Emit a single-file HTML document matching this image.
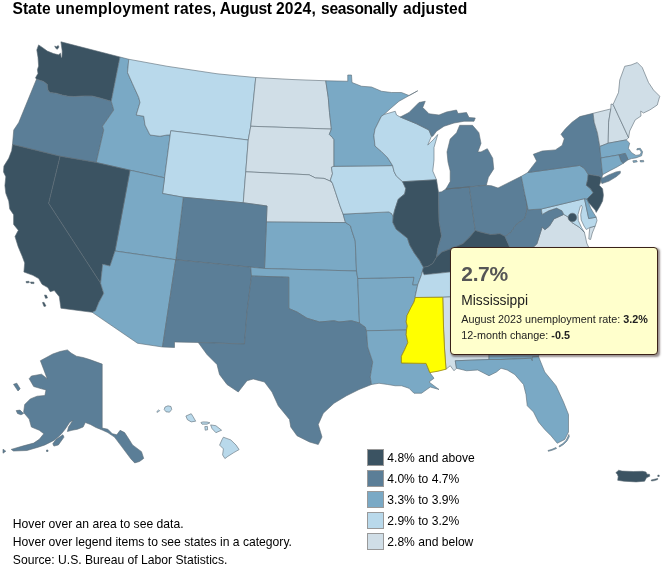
<!DOCTYPE html>
<html lang="en"><head><meta charset="utf-8"><title>State unemployment rates, August 2024, seasonally adjusted</title>
<style>
html,body{margin:0;padding:0;background:#fff;}
body{width:668px;height:565px;position:relative;overflow:hidden;font-family:"Liberation Sans",sans-serif;color:#000;}
#title{position:absolute;left:0;top:-0.7px;width:600px;height:20px;font-size:15.6px;font-weight:bold;white-space:nowrap;line-height:20px;}
#map{position:absolute;left:0;top:0;}
#map path{stroke:#5d6b75;stroke-width:0.6;stroke-linejoin:round;}

#title span{position:absolute;top:0;}
.note{position:absolute;left:12.8px;font-size:12.15px;line-height:18px;white-space:nowrap;}
.leg{position:absolute;left:367px;width:15px;height:15px;border:1px solid #999;}
.legt{position:absolute;left:387.3px;font-size:12.1px;line-height:16px;white-space:nowrap;margin-top:1.4px;}
#tip{position:absolute;left:450px;top:246.7px;width:206px;height:106px;background:#ffffcc;border:1px solid #3a2218;border-radius:4px;box-shadow:1.5px 1.5px 2px rgba(70,55,55,.55);}
#tip div{position:absolute;left:10.3px;white-space:nowrap;color:#222;}
</style></head><body>
<svg id="map" width="668" height="565" viewBox="0 0 668 565">
<path d="M36.5,79.2 35.5,77.8 38,73.4 37.4,69.7 38.6,66 38,57.3 36.8,49.9 38.6,44.9 42.3,47.4 47.3,51.1 53.5,53.6 58.5,54.8 60.5,53.2 61.3,57.9 62,57 62.2,51.1 60.9,41.8 120,57 111.25,101.25 100,98 92,96 85,95.9 74.6,96.5 68.4,96.3 62.2,95.1 56,93.2 49.8,92.6 47.9,90.1 47.3,84.6 43.6,81.5ZM54.7,46 56.5,46.8 58.2,45.5 59,47 57.3,49.3 55.8,48.3Z" fill="#3b5362"/>
<path d="M36.5,79.2 30,95 18.75,122.5 13.75,130 12.5,144.5 60,156.25 96.25,162.5 103.75,130 102.5,126.25 113.75,110 111.25,101.25 100,98 92,96 85,95.9 74.6,96.5 68.4,96.3 62.2,95.1 56,93.2 49.8,92.6 47.9,90.1 47.3,84.6 43.6,81.5Z" fill="#5b7e97"/>
<path d="M120,57 128.75,59.25 127.5,72.5 132.5,83.75 138.75,97.5 140,102.5 136.25,115 143.75,116.25 145,125 150,135 160,136.25 167,135 170.2,135 164.56,177.8 130,170.2 96.25,162.5 103.75,130 102.5,126.25 113.75,110 111.25,101.25Z" fill="#7aa9c5"/>
<path d="M128.75,59.25 167,66.25 192,70 217,73.75 242,76.25 255.75,77.5 250.75,126.25 248.25,140 170.75,130.75 170.2,135 167,135 160,136.25 150,135 145,125 143.75,116.25 136.25,115 140,102.5 138.75,97.5 132.5,83.75 127.5,72.5Z" fill="#b9d9eb"/>
<path d="M248.25,140 245.75,171.8 243.25,202.75 183.25,197.25 162.5,193.5 164.56,177.8 170.2,135 170.75,130.75Z" fill="#b9d9eb"/>
<path d="M255.75,77.5 292,79.5 325.75,80.75 328.25,97.5 329.5,112.5 331.4,129.1 250.75,126.25Z" fill="#d0dee7"/>
<path d="M331.4,129.1 329.3,134.4 332.5,137.6 334,139.7 334,166.3 331.4,167.3 332.5,173.7 330.4,180.1 332.5,183.3 330.4,181.2 324,178.4 315.5,178 309.1,174.8 245.75,171.8 248.25,140 250.75,126.25Z" fill="#d0dee7"/>
<path d="M332.5,183.3 335.7,192.8 339.9,205.6 343.1,214.1 345.2,221.5 345.7,222.6 266.4,222 267,206 243.25,202.75 245.75,171.8 309.1,174.8 315.5,178 324,178.4 330.4,181.2Z" fill="#d0dee7"/>
<path d="M345.7,222.6 350.5,225.8 351.6,230 355.25,241 356.5,271 264.5,268.5 266.4,222Z" fill="#7aa9c5"/>
<path d="M264.5,268.5 250.75,267.2 175.75,259.75 183.25,197.25 243.25,202.75 267,206 266.4,222Z" fill="#5b7e97"/>
<path d="M175.75,259.75 115,251 130,170.2 164.56,177.8 162.5,193.5 183.25,197.25Z" fill="#7aa9c5"/>
<path d="M115,251 110,266 102.7,264.3 100.6,283.2 48.6,203.3 60,156.25 96.25,162.5 130,170.2Z" fill="#3b5362"/>
<path d="M12.5,144.5 11.7,150.6 8.75,158.3 3.9,166.1 3.5,171.9 5.8,176.8 4.9,185.6 5.8,193.3 8.75,201.1 9.7,208.9 13.6,214.7 13.6,224.4 18.3,230.3 15,236.5 18.1,246.5 22.2,256.3 24.7,262.9 23.9,272 32.9,275.3 38.7,278.6 42,284.3 47.8,287.6 50.2,291.7 54.3,290.5 59.3,296.7 60.9,308.2 92.2,312.3 95.5,310.7 98.8,302.5 103.7,293.4 100.6,283.2 48.6,203.3 60,156.25ZM26,281.5 29,281.3 29.3,282.6 26.5,283ZM30.5,282 34,282.2 34,283.6 31,283.5ZM44.5,295 46.5,295.3 47.5,298 45.5,298.3ZM42.5,302.5 44,302.3 46,306 44,306.5Z" fill="#3b5362"/>
<path d="M175.75,259.75 162.5,347 137.5,343.25 92.2,312.3 95.5,310.7 98.8,302.5 103.7,293.4 100.6,283.2 102.7,264.3 110,266 115,251Z" fill="#7aa9c5"/>
<path d="M250.75,267.2 251.5,276 247,312 244.5,344 198.25,342.5 174.5,342 174.5,347.5 162.5,347 175.75,259.75Z" fill="#5b7e97"/>
<path d="M251.5,276 288.75,277.25 288.75,308.5 297,312 307,318.25 319.5,322 334,320.75 339,322 351.5,320.75 359.5,323 359,312 357.75,278.5 356.5,271 264.5,268.5 250.75,267.2Z" fill="#7aa9c5"/>
<path d="M359.5,323 365.25,327 366.5,330.75 367.75,347 372.75,362 370.25,377 371.5,384.5 359,389.5 346.5,395.75 334,403.25 323.25,413.25 318.25,424.5 322,437 318.25,444.5 309.5,442 297,435.75 290.75,427 289.5,419.5 278.25,405.75 272,392 264.5,382 253.25,379 247,380.75 238.25,392 227,384.5 219.5,374.5 217,364.5 207,354.5 198.25,342.5 244.5,344 247,312 251.5,276 288.75,277.25 288.75,308.5 297,312 307,318.25 319.5,322 334,320.75 339,322 351.5,320.75Z" fill="#5b7e97"/>
<path d="M357.75,278.5 414,277.25 412.75,284.75 417.75,284.75 415.25,296 415.25,297.5 414,302 411,307.5 407,315.5 406.2,321.9 407.3,326 406.5,330 366.5,330.75 365.25,327 359.5,323 359,312Z" fill="#7aa9c5"/>
<path d="M406.5,330 406.2,334.7 407.8,342.6 404.6,349.8 401.4,356.2 401.4,363 426.1,363.4 428,368 429.8,372.6 434,378.25 429,382 439,389.5 430.25,387 421.5,393.25 414,393.25 409,388.25 401.5,385.75 395.25,385.75 387.75,384.5 379,383.25 371.5,384.5 370.25,377 372.75,362 367.75,347 366.5,330.75Z" fill="#7aa9c5"/>
<path d="M343.1,214.1 388.8,211.9 391.5,213.5 393.2,216.5 392.9,222.5 396.2,229.2 401.9,233.7 407.5,238.2 409.7,244.9 414.2,252.8 419.8,260.6 421.8,264.5 423.5,267.25 422.5,271 421.5,274.75 417.75,284.75 412.75,284.75 414,277.25 357.75,278.5 356.5,271 355.25,241 351.6,230 350.5,225.8 345.7,222.6 345.2,221.5Z" fill="#7aa9c5"/>
<path d="M334,166.3 392.6,165.6 394.1,171.6 396.2,175.8 402.6,181.7 405.8,188.6 404.7,193.9 398.3,199.2 396.2,205.6 394.6,210.5 393.2,216.5 391.5,213.5 388.8,211.9 343.1,214.1 339.9,205.6 335.7,192.8 332.5,183.3 330.4,180.1 332.5,173.7 331.4,167.3Z" fill="#b9d9eb"/>
<path d="M325.75,80.75 347.75,81.25 347.75,75 351.5,75 352,82.5 361.5,86.25 371.5,87 381.5,91.25 391.5,92.5 401.5,92.5 409,95.5 417.75,90.75 399,101.25 390.25,108.75 384,114.5 381.3,116.4 375,129.1 373.9,135.5 375,146.1 381.3,151.4 387.7,157.8 392.6,165.6 334,166.3 334,139.7 332.5,137.6 329.3,134.4 331.4,129.1 329.5,112.5 328.25,97.5Z" fill="#7aa9c5"/>
<path d="M384,114.5 395.25,111.25 396.5,115 400.25,117 416.5,123.75 429,130 431.5,136.25 427.75,145 433,140 437.75,134.5 434,147.5 434,160 432.75,171 436.5,179.75 402.6,181.7 396.2,175.8 394.1,171.6 392.6,165.6 387.7,157.8 381.3,151.4 375,146.1 373.9,135.5 375,129.1 381.3,116.4Z" fill="#b9d9eb"/>
<path d="M436.5,179.75 438.5,192.25 439,221 441.5,236 437.75,248.5 436.5,257.25 432.75,263.5 427.75,266.5 423.5,267.25 421.8,264.5 419.8,260.6 414.2,252.8 409.7,244.9 407.5,238.2 401.9,233.7 396.2,229.2 392.9,222.5 393.2,216.5 394.6,210.5 396.2,205.6 398.3,199.2 404.7,193.9 405.8,188.6 402.6,181.7Z" fill="#3b5362"/>
<path d="M438.5,192.25 441.7,191.8 445.9,189 469.3,186.9 475.3,230.5 469.5,237.25 462.75,243.8 451.5,248.5 441.5,252.25 436.5,257.25 437.75,248.5 441.5,236 439,221Z" fill="#5b7e97"/>
<path d="M469.3,186.9 486.3,185.3 488.4,177.3 493.7,168.9 492.7,158.2 487.3,148.7 481,151.9 477.8,151.9 481,143.4 478.9,132.7 472.5,125.3 459.7,125.3 456.6,132.7 450.2,139.1 447,151.9 448,162 450.2,171 450.2,181.6 445.9,189 469.3,186.9 445.9,189ZM400.25,117 409,112.5 419,102.5 425.25,101.25 422.75,107.5 429,113.75 439,115 446.5,112 456.5,110 458,113.5 466.5,112.5 469,117.5 475.25,118 474,121.25 464,121.25 454,123 444,126.25 436.5,131.25 432.75,136.25 431.5,136.25 429,130 416.5,123.75Z" fill="#5b7e97"/>
<path d="M486.3,185.3 491.6,185.8 498,188 506.5,183.7 521.3,176.3 525,195 527,203 526.5,212 524.75,218.5 516,224.75 511,232.25 505,236.5 500,233.8 495,234.3 490.5,234.6 486,233.5 480,232 475.3,230.5 469.3,186.9Z" fill="#5b7e97"/>
<path d="M485,271 450,272 424,274.75 422.5,271 423.5,267.25 427.75,266.5 432.75,263.5 436.5,257.25 441.5,252.25 451.5,248.5 462.75,243.8 469.5,237.25 475.3,230.5 480,232 486,233.5 490.5,234.6 495,234.3 500,233.8 505,236.5 507,241 510,248 513,258Z" fill="#3b5362"/>
<path d="M415.25,297.5 442.75,297.25 470,296 495,294 510,285 500,270 485,271 450,272 424,274.75 422.5,271 421.5,274.75 417.75,284.75 415.25,296Z" fill="#b9d9eb"/>
<path d="M470,296 484,340 489,355 489,359.5 455.25,360.75 456.5,368.25 454,370.75 450.25,365.75 446,369.2 444.6,350 443.6,329.9 442.75,297.25Z" fill="#d0dee7"/>
<path d="M489,359.5 501,359.5 531,358.25 532.25,360.75 532.25,357 538.5,356.5 541,348 545,340 525,315 508,300 500,293 495,294 470,296 484,340 489,355Z" fill="#7aa9c5"/>
<path d="M538.5,356.5 544.75,372 556,385.75 563.5,402 568.5,414.5 568.5,432 564.75,439.5 557.25,443.25 551,435.75 544.75,429.5 538.5,422 533.5,412 527.25,405.75 526,394.5 523.5,384.5 514.75,374.5 507.25,370 501,368.25 496.5,372 489,375.75 477.75,370 466.5,370.75 456.5,368.25 455.25,360.75 489,359.5 501,359.5 531,358.25 532.25,360.75 532.25,357ZM568.8,434.5 569.3,436.5 567,441 563.5,444.5 559.5,447 559,446 562.8,443.6 566.2,440.3 568,436.5ZM556,447.5 556.5,448.5 552,450.3 548.3,451.3 548,450.5 552,449.3Z" fill="#7aa9c5"/>
<path d="M500,293 520,288 540,290 560,305 545,340 525,315 508,300Z" fill="#5b7e97"/>
<path d="M598,262 600,275 585,290 560,305 540,290 520,288 500,293 495,294 510,285 500,270Z" fill="#7aa9c5"/>
<path d="M563.8,214.4 568.3,217.1 571.9,222.5 579,227 584.4,232.4 585.7,238 586.7,243 588.5,247 594,252 598,262 500,270 485,271 513,258 522,255 530,250 536.8,244 542.2,227 544.9,229.7 549.4,226.1 553.9,218.9ZM589.8,227.5 595.2,226.1 592.3,233 590.6,239.5 588.8,239 589.3,232Z" fill="#d0dee7"/>
<path d="M541.3,209 542.2,214.4 548.5,210.8 556.6,208.1 562,210.8 563.8,214.4 553.9,218.9 549.4,226.1 544.9,229.7 542.2,227 536.8,244 530,250 522,255 513,258 510,248 507,241 505,236.5 511,232.25 516,224.75 524.75,218.5 526.5,212 527,203 525,195 528.2,209.8Z" fill="#5b7e97"/>
<path d="M541.3,209 542.2,214.4 548.5,210.8 556.6,208.1 562,210.8 563.8,214.4 568.3,217.1 571.9,222.5 579,227 584.4,232.4 581.5,227.5 578.3,220.5 578,214.5 580.3,206.5 581.3,205.3 582.3,207 580.7,214.5 581.2,220 584,226 586.3,229.5 589.8,227.5 595.2,226.1 597,220.5 596.2,217.2 588.7,218.5 584.5,198.6Z" fill="#b9d9eb"/>
<path d="M587,199 588.5,202.3 590.6,208 594.8,215 596.2,217.2 588.7,218.5 584.5,198.6Z" fill="#7aa9c5"/>
<path d="M521.3,176.3 527.8,172.5 579.8,165.4 584.5,168.5 588.2,174.3 587.7,179.6 586.3,185.3 590.6,188.8 593.2,192.8 587,199 584.5,198.6 541.3,209 528.2,209.8 525,195Z" fill="#7aa9c5"/>
<path d="M601.2,177.5 600.5,182.5 599.3,185.3 602.6,188.8 603.4,195.2 602.6,200.9 599.8,206.5 596.2,212.4 595.2,210.1 592,206.5 588.5,202.3 587,199 593.2,192.8 590.6,188.8 586.3,185.3 587.7,179.6 588.2,174.3 599.1,176.1Z" fill="#3b5362"/>
<path d="M527.8,172.5 528.9,170.9 536.6,160.9 533.3,154.3 542.2,151 555.4,149.9 562.1,145.4 564.3,138.8 561,134.3 565.4,128.8 572.1,122.2 579.8,116.6 593.1,113.3 594.2,122.2 597.5,133.2 599.8,146.5 600.9,158 601.9,168.3 602.6,174.7 602,177 602.6,178.2 607.6,175.4 616.1,171.9 620.3,171.2 620.3,173.3 616.1,176.8 609,181.1 601.9,183.6 600.8,180.5 601.2,177.5 599.1,176.1 588.2,174.3 584.5,168.5 579.8,165.4Z" fill="#5b7e97"/>
<path d="M593.1,113.3 610.8,108.9 608.6,122.2 608.2,143.2 599.8,146.5 597.5,133.2 594.2,122.2Z" fill="#d0dee7"/>
<path d="M610.8,108.9 611,104 613.1,104.4 628.6,137.7 626.3,139.9 608.2,143.2 608.6,122.2Z" fill="#d0dee7"/>
<path d="M613.1,104.4 618.5,92.5 619.75,80 624.75,66.25 631,65 637.25,62.5 642.25,67.5 648.5,82.5 653.5,90 659.75,96.25 657.25,105 649.75,110 643.5,113 640.7,111.1 641,116 635.2,119.9 629.7,131 628.6,137.7Z" fill="#d0dee7"/>
<path d="M626.3,139.9 629.7,143.2 628.3,148.3 631.6,152.7 635.9,155.4 640.1,154.7 641.3,152 639.4,149.4 636.8,150 637.2,148.6 640.3,148.3 642.6,151.8 641.6,155.8 635.9,157.9 631.6,158.6 628.1,159.8 625.3,153.5 618.9,154.9 600.9,158 599.8,146.5 608.2,143.2ZM632.8,160.8 636.5,160.4 637.3,161.8 633.5,162.5ZM640,160.6 643.5,160.4 643.8,161.8 640.5,162Z" fill="#7aa9c5"/>
<path d="M625.3,153.5 628.1,159.8 623.1,163.4 621,161.2 618.9,154.9Z" fill="#5b7e97"/>
<path d="M623.1,163.4 617,167 610.4,170.4 602.6,174.7 601.9,168.3 600.9,158 618.9,154.9 621,161.2Z" fill="#7aa9c5"/>
<path d="M40.4,360.7 52.8,354 60,351.5 67.4,349.9 71,353 76.4,356.2 83,357.5 89.8,359.6 102.2,364.1 102.2,428.1 107.8,429.2 112.3,433.7 116.8,434.8 120.1,430.3 124.6,432.6 128.5,438.5 132.5,444.9 141.5,451.7 143.7,458.4 139.5,461.5 134.7,462.9 131,459 128,455 121.3,446.1 114.5,437.1 107.8,432.6 102.2,430 96,427.5 90.5,424.5 85.3,422.5 83.1,427 77.5,429.2 71.9,430.3 67.4,431.5 68.5,427 73,420.2 69.6,422.5 65.1,429.2 60.6,434.8 53.9,440.4 44.9,444.9 38.2,447.2 26.9,450.5 13.5,451 11.2,449.4 22.5,446.1 33.7,443.1 39.3,439.3 43.8,433.7 39.3,430.3 31.4,427 29.2,419.1 23.6,412.4 24.7,404.5 30.3,398.9 37.1,396.2 44.9,395.5 46,389.9 41.5,388.8 33.7,386.5 29.2,378.7 31.4,376 41.5,374.2 47.2,378.7 43.8,369.7ZM13.5,384.3 16.8,383.2 20.2,388.8 18,391ZM16.2,410.6 20,410.1 23.6,413.5 21,414.8 17.5,413.5ZM52.8,443.8 56.1,439.3 62.9,434.8 64,437.1 58.4,444.9 53.9,446.1ZM3,449.2 5.8,451.2 3,453.2ZM46.5,450 48,450 48,451.5 46.5,451.5Z" fill="#5b7e97"/>
<path d="M165,407 168,405.8 171,406.5 171.7,409.5 169.5,412.2 166,411.8 164.2,409.5ZM156.7,411.8 158.5,410 159.7,410.6 158,412.3ZM185.9,416 191.2,413.7 193,416.5 195.7,421.2 191.2,421.9 187.4,419.7ZM200.9,422.5 203,421.9 207,422 209.9,422.8 207,424.2 202,424.2ZM204.8,426.6 207.4,426.4 207.6,429.8 205.2,430.2ZM210.6,424.9 215.9,425.7 221.6,430.2 215.9,432.7 212.1,428.7ZM223.4,437.2 230.8,439.9 236.1,445.1 239.1,449.6 233.8,452.6 227.8,456.4 224.9,458.6 222.6,454.9 223.4,448.9 219.6,445.1 221.9,439.9Z" fill="#b9d9eb"/>
<path d="M615.8,472.7 618.7,470.2 622,471.1 633.3,471.5 642.7,471.3 646,472.1 647,474.2 649.5,474.3 649.8,476.2 646.5,477.7 644.6,481.2 636.1,481.9 623.9,481.2 617.7,480.3 618.2,476.5 617.3,474.2ZM651.2,480 654.5,479.2 657.8,478.4 657.6,479.6 654.5,480.6 651.5,481ZM657.8,475.1 659.2,475.1 659.2,476.5 657.8,476.5Z" fill="#3b5362"/>
<path d="M415.25,297.5 442.75,297.25 443.6,329.9 444.6,350 446,369.2 438,371.2 429.8,372.6 428,368 426.1,363.4 401.4,363 401.4,356.2 404.6,349.8 407.8,342.6 406.2,334.7 406.5,330 407.3,326 406.2,321.9 407,315.5 411,307.5 414,302Z" fill="#ffff00" style="stroke:#a39210;stroke-width:0.9"/>
<circle cx="572.4" cy="217.5" r="4.3" fill="#3b5362" stroke="#6a747b" stroke-width="0.6"/>
</svg>
<div id="title"><span style="left:12.5px">State</span> <span style="left:55.5px;letter-spacing:0.25px">unemployment</span> <span style="left:173.8px;letter-spacing:0.15px">rates,</span> <span style="left:219.8px;letter-spacing:-0.3px">August</span> <span style="left:275.9px;letter-spacing:0.2px">2024,</span> <span style="left:321.1px;letter-spacing:-0.35px">seasonally</span> <span style="left:403.1px">adjusted</span></div>
<div id="tip">
<div style="top:14.2px;font-size:21px;line-height:24px;letter-spacing:-0.35px;font-weight:bold;color:#555;">2.7%</div>
<div style="top:45.3px;font-size:13.8px;">Mississippi</div>
<div style="top:65px;font-size:10.8px;">August 2023 unemployment rate: <b>3.2%</b></div>
<div style="top:81px;font-size:10.8px;">12-month change: <b>-0.5</b></div>
</div>
<div class="leg" style="top:449px;background:#3b5362"></div><div class="legt" style="top:449px">4.8% and above</div>
<div class="leg" style="top:470px;background:#5b7e97"></div><div class="legt" style="top:470px">4.0% to 4.7%</div>
<div class="leg" style="top:491px;background:#7aa9c5"></div><div class="legt" style="top:491px">3.3% to 3.9%</div>
<div class="leg" style="top:512px;background:#b9d9eb"></div><div class="legt" style="top:512px">2.9% to 3.2%</div>
<div class="leg" style="top:533px;background:#d0dee7"></div><div class="legt" style="top:533px">2.8% and below</div>
<div class="note" style="top:515px">Hover over an area to see data.</div>
<div class="note" style="top:532.8px">Hover over legend items to see states in a category.</div>
<div class="note" style="top:550.8px">Source: U.S. Bureau of Labor Statistics.</div>
</body></html>
